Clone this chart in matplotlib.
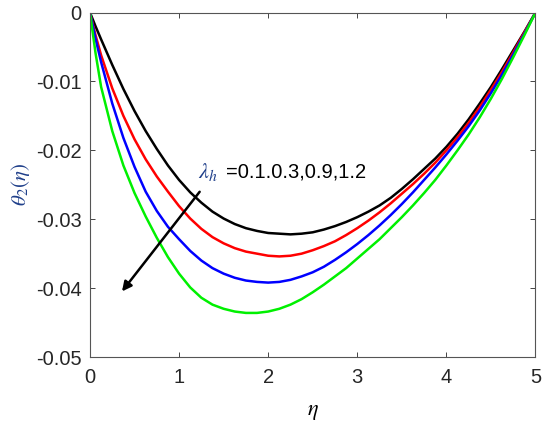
import matplotlib
matplotlib.use("Agg")
import matplotlib.pyplot as plt

# eta grid and theta_2 profiles
eta = [0, 0.0625, 0.125, 0.25, 0.375, 0.5, 0.625, 0.75, 0.875, 1.0, 1.125,
       1.25, 1.375, 1.5, 1.625, 1.75, 1.875, 2.0, 2.125, 2.25, 2.375, 2.5,
       2.625, 2.75, 2.875, 3.0, 3.125, 3.25, 3.375, 3.5, 3.625, 3.75, 3.875,
       4.0, 4.125, 4.25, 4.375, 4.5, 4.625, 4.75, 4.875, 5.0]

theta_01 = [0, -0.0020, -0.0039, -0.0076, -0.0111, -0.0143, -0.0172, -0.0198,
            -0.0222, -0.0243, -0.0261, -0.0276, -0.0289, -0.0299, -0.0307,
            -0.0313, -0.0317, -0.0320, -0.0321, -0.0322, -0.0321, -0.0319,
            -0.0315, -0.0310, -0.0304, -0.0297, -0.0289, -0.0280, -0.0269,
            -0.0256, -0.0242, -0.0227, -0.0212, -0.0195, -0.0176, -0.0155,
            -0.0132, -0.0108, -0.0082, -0.0055, -0.0028, 0]
theta_03 = [0, -0.0033, -0.0062, -0.0110, -0.0150, -0.0184, -0.0213, -0.0238,
            -0.0260, -0.0281, -0.0299, -0.0314, -0.0326, -0.0335, -0.0342,
            -0.0347, -0.0350, -0.0353, -0.0354, -0.0353, -0.0350, -0.0345,
            -0.0339, -0.0332, -0.0323, -0.0313, -0.0302, -0.0290, -0.0277,
            -0.0263, -0.0249, -0.0234, -0.0218, -0.0200, -0.0181, -0.0160,
            -0.0137, -0.0112, -0.0086, -0.0058, -0.0029, 0]
theta_09 = [0, -0.0038, -0.0072, -0.0132, -0.0182, -0.0224, -0.0260, -0.0288,
            -0.0311, -0.0329, -0.0346, -0.0360, -0.0371, -0.0379, -0.0385,
            -0.0389, -0.0391, -0.0392, -0.0391, -0.0388, -0.0383, -0.0377,
            -0.0369, -0.0359, -0.0348, -0.0336, -0.0323, -0.0309, -0.0294,
            -0.0278, -0.0261, -0.0243, -0.0225, -0.0206, -0.0186, -0.0165,
            -0.0142, -0.0117, -0.0090, -0.0061, -0.0031, 0]
theta_12 = [0, -0.0059, -0.0108, -0.0172, -0.0222, -0.0262, -0.0296, -0.0327,
            -0.0355, -0.0379, -0.0399, -0.0414, -0.0424, -0.0430, -0.0434,
            -0.0436, -0.0436, -0.0434, -0.0430, -0.0424, -0.0416, -0.0406,
            -0.0395, -0.0383, -0.0371, -0.0357, -0.0343, -0.0329, -0.0313,
            -0.0297, -0.0280, -0.0262, -0.0243, -0.0222, -0.0200, -0.0177,
            -0.0152, -0.0125, -0.0096, -0.0065, -0.0033, 0]

series = [theta_01, theta_03, theta_09, theta_12]
colors = ["black", "red", "blue", "#00f000"]

xticks = [0, 1, 2, 3, 4, 5]
yticks = [0, -0.01, -0.02, -0.03, -0.04, -0.05]
ytick_labels = ["0", "-0.01", "-0.02", "-0.03", "-0.04", "-0.05"]

plt.rcParams["font.family"] = ["Liberation Sans", "DejaVu Sans"]
plt.rcParams["mathtext.fontset"] = "stix"

fig = plt.figure(figsize=(5.5, 4.23), dpi=100)
ax = fig.add_axes([0.1636, 0.156, 0.81, 0.8144])

for vals, c in zip(series, colors):
    ax.plot(eta, vals, color=c, lw=1.8, solid_joinstyle="round")

ax.set_xlim(0, 5)
ax.set_ylim(-0.05, 0)
ax.set_xticks(xticks)
ax.set_xticklabels([str(t) for t in xticks])
ax.set_yticks(yticks)
ax.set_yticklabels(ytick_labels)
ax.tick_params(direction="in", length=3.5, width=0.6, labelsize=14.5,
               top=True, right=True, colors="#262626")
ax.tick_params(axis="x", pad=8)
ax.tick_params(axis="y", pad=6)
for sp in ax.spines.values():
    sp.set_color("#555555")
    sp.set_linewidth(0.8)

ax.set_xlabel(r"$\eta$", fontsize=16, labelpad=10)
ax.set_ylabel(r"$\theta_2(\eta)$", fontsize=15, color="#1f3f8a", labelpad=3)

# annotation with arrow
ax.annotate("", xy=(0.34, -0.0408), xytext=(1.25, -0.0257),
            arrowprops=dict(arrowstyle="-|>", color="black", lw=1.8,
                            mutation_scale=14))
ax.text(1.21, -0.0231, r"$\lambda_h$", fontsize=16, color="#1f3f8a",
        va="center", ha="left")
ax.text(1.53, -0.0231, "=0.1.0.3,0.9,1.2", fontsize=14.5, color="black",
        va="center", ha="left")

fig.savefig("out.png", dpi=100)
